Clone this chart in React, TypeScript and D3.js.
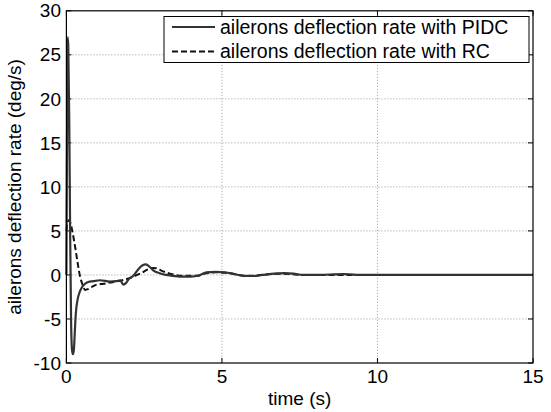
import React from "react";
import * as d3 from "d3";

const tPIDC = [0, 0.02, 0.04, 0.06, 0.09, 0.12, 0.15, 0.18, 0.21, 0.24, 0.27, 0.3, 0.36, 0.42, 0.5, 0.6, 0.7, 0.87, 1.08, 1.4, 1.6, 1.73, 1.83, 1.92, 2.0, 2.15, 2.3, 2.45, 2.55, 2.65, 2.8, 3.0, 3.2, 3.44, 3.7, 4.0, 4.3, 4.5, 4.8, 5.1, 5.4, 5.7, 6.0, 6.3, 6.7, 7.0, 7.3, 7.6, 8.0, 8.9, 9.1, 9.4, 10, 11, 12, 13, 14, 15];
const vPIDC = [0, 15, 27, 26, 18, 5, -5, -8.5, -9, -8.5, -6.5, -4.5, -2.8, -2, -1.4, -1.0, -0.8, -0.7, -0.6, -0.75, -0.7, -0.6, -1.1, -0.9, -0.5, -0.1, 0.6, 1.1, 1.2, 1.0, 0.5, 0.2, 0.0, -0.1, -0.2, -0.2, 0.0, 0.3, 0.35, 0.3, 0.1, -0.1, -0.12, 0.0, 0.15, 0.2, 0.15, 0.0, 0.0, 0.1, 0.08, 0.0, 0, 0, 0, 0, 0, 0];

const tRC = [0, 0.06, 0.12, 0.2, 0.28, 0.36, 0.44, 0.52, 0.6, 0.7, 0.85, 0.97, 1.2, 1.4, 1.6, 1.83, 2.0, 2.15, 2.4, 2.6, 2.75, 2.9, 3.05, 3.23, 3.5, 3.76, 4.0, 4.2, 4.5, 4.8, 5.1, 5.4, 5.7, 6.0, 6.4, 6.8, 7.2, 7.6, 8, 9, 10, 15];
const vRC = [5.0, 6.2, 6.0, 4.8, 3.2, 1.4, -0.2, -1.1, -1.7, -1.6, -1.3, -1.1, -1.0, -0.87, -0.75, -0.57, -0.4, -0.19, 0.2, 0.6, 0.8, 0.75, 0.5, 0.26, 0.0, -0.1, -0.1, -0.1, 0.2, 0.3, 0.25, 0.1, -0.1, -0.1, 0.05, 0.15, 0.1, 0, 0, 0, 0, 0];

const xTicks = [0, 5, 10, 15];
const yTicks = [-10, -5, 0, 5, 10, 15, 20, 25, 30];
const legendLabels = ["ailerons deflection rate with PIDC", "ailerons deflection rate with RC"];
const xTitle = "time (s)";
const yTitle = "ailerons deflection rate (deg/s)";

export default function App() {
  const W = 551, H = 412;
  const L = 66.4, R = 533, T = 10.8, B = 363;
  const x = d3.scaleLinear().domain([0, 15]).range([L, R]);
  const y = d3.scaleLinear().domain([-10, 30]).range([B, T]);
  const font = "'Liberation Sans', Arial, sans-serif";
  const fs = 19;

  const line = d3.line<[number, number]>().x(d => x(d[0])).y(d => y(d[1])).curve(d3.curveMonotoneX);
  const pidc = line(tPIDC.map((t, i) => [t, vPIDC[i]]));
  const rc = line(tRC.map((t, i) => [t, vRC[i]]));

  return (
    <svg width={W} height={H} style={{ position: "absolute", left: 0, top: 0, background: "#fff" }} fontFamily={font}>
      <rect x={0} y={0} width={W} height={H} fill="#fff" />
      {/* grid */}
      {xTicks.filter(t => t > 0 && t < 15).map(t => (
        <line key={"gx" + t} x1={x(t)} x2={x(t)} y1={T} y2={B} stroke="#999" strokeDasharray="1,2" />
      ))}
      {yTicks.filter(t => t > -10 && t < 30).map(t => (
        <line key={"gy" + t} x1={L} x2={R} y1={y(t)} y2={y(t)} stroke="#999" strokeDasharray="1,2" />
      ))}
      {/* ticks */}
      {xTicks.map(t => (
        <g key={"tx" + t}>
          <line x1={x(t)} x2={x(t)} y1={B} y2={B - 5} stroke="#000" />
          <line x1={x(t)} x2={x(t)} y1={T} y2={T + 5} stroke="#000" />
          <text x={x(t)} y={383} textAnchor="middle" fontSize={fs} fill="#000">{t}</text>
        </g>
      ))}
      {yTicks.map(t => (
        <g key={"ty" + t}>
          <line x1={L} x2={L + 5} y1={y(t)} y2={y(t)} stroke="#000" />
          <line x1={R} x2={R - 5} y1={y(t)} y2={y(t)} stroke="#000" />
          <text x={61} y={y(t)} dy="0.35em" textAnchor="end" fontSize={fs} fill="#000">{t}</text>
        </g>
      ))}
      {/* curves */}
      <path d={rc || ""} fill="none" stroke="#111" strokeWidth={2} strokeDasharray="6,3" />
      <path d={pidc || ""} fill="none" stroke="#333" strokeWidth={2.2} />
      {/* frame */}
      <rect x={L} y={T} width={R - L} height={B - T} fill="none" stroke="#000" strokeWidth={1.2} />
      {/* legend */}
      <rect x={164} y={16.5} width={365} height={46} fill="#fff" stroke="#000" strokeWidth={1} />
      <line x1={172} x2={215} y1={27} y2={27} stroke="#333" strokeWidth={2.2} />
      <line x1={172} x2={215} y1={51.5} y2={51.5} stroke="#111" strokeWidth={2} strokeDasharray="6,3" />
      <text x={220} y={27} dy="0.35em" fontSize={19.5} fill="#000">{legendLabels[0]}</text>
      <text x={220} y={51.5} dy="0.35em" fontSize={19.5} fill="#000">{legendLabels[1]}</text>
      {/* titles */}
      <text x={(L + R) / 2} y={405} textAnchor="middle" fontSize={fs} fill="#000">{xTitle}</text>
      <text transform={`translate(21,${(T + B) / 2}) rotate(-90)`} textAnchor="middle" fontSize={fs} fill="#000">{yTitle}</text>
    </svg>
  );
}
